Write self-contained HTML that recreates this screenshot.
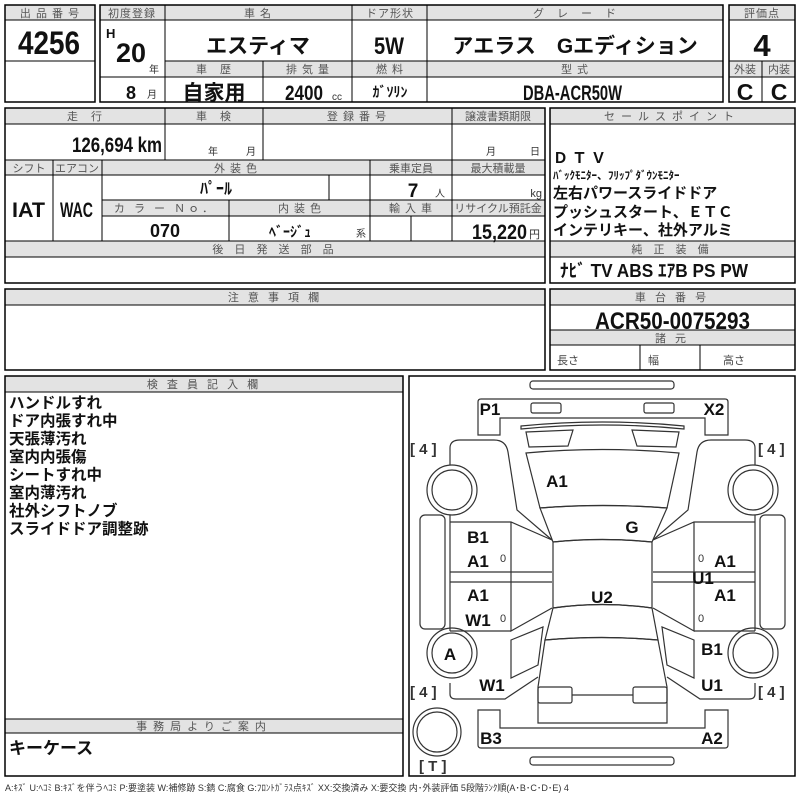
<!DOCTYPE html>
<html><head><meta charset="utf-8"><style>
body{margin:0;background:#fff}
svg{display:block}
text{font-family:"Liberation Sans","Noto Sans CJK JP",sans-serif}
.h{font-size:11px;fill:#555;text-anchor:middle;letter-spacing:1px}
.n{font-family:"Liberation Sans Narrow","Liberation Sans","Noto Sans CJK JP",sans-serif;font-weight:bold;fill:#111}
.c{text-anchor:middle}
.g{fill:#e3e3e3;stroke:#000;stroke-width:1}
.b{fill:none;stroke:#000;stroke-width:1.5}
.l{stroke:#000;stroke-width:1}
.k{font-weight:bold;fill:#111}
.car{fill:none;stroke:#333;stroke-width:1.2}
.lab{font-weight:bold;font-size:17px;fill:#111;text-anchor:middle}
</style></head><body>
<svg width="800" height="800" viewBox="0 0 800 800" xmlns="http://www.w3.org/2000/svg">
<!-- Box1 -->
<rect class="g" x="5" y="5" width="90" height="15"/>
<rect class="b" x="5" y="5" width="90" height="97"/>
<line class="l" x1="5" y1="61" x2="95" y2="61"/>
<text class="h" x="50" y="17">出 品 番 号</text>
<text class="n" x="18" y="54" font-size="32" textLength="62" lengthAdjust="spacingAndGlyphs">4256</text>
<!-- Box2 -->
<rect class="g" x="100" y="5" width="623" height="15"/>
<rect class="g" x="165" y="61" width="558" height="16"/>
<rect class="b" x="100" y="5" width="623" height="97"/>
<line class="l" x1="165" y1="5" x2="165" y2="102"/>
<line class="l" x1="352" y1="5" x2="352" y2="102"/>
<line class="l" x1="427" y1="5" x2="427" y2="102"/>
<line class="l" x1="263" y1="61" x2="263" y2="102"/>
<line class="l" x1="100" y1="77" x2="165" y2="77"/>
<text class="h" x="132" y="17">初度登録</text>
<text class="h" x="258" y="17">車 名</text>
<text class="h" x="390" y="17">ドア形状</text>
<text class="h" x="575" y="17">グ　レ　ー　ド</text>
<text class="n" x="106" y="38" font-size="13">H</text>
<text class="n" x="116" y="62" font-size="27" textLength="30" lengthAdjust="spacingAndGlyphs">20</text>
<text x="149" y="73" font-size="10" fill="#333">年</text>
<text class="n" x="126" y="99" font-size="18">8</text>
<text x="147" y="98" font-size="10" fill="#333">月</text>
<text class="k c" x="258" y="53" font-size="21">エスティマ</text>
<text class="n" x="374" y="54" font-size="24" textLength="30" lengthAdjust="spacingAndGlyphs">5W</text>
<text class="k c" x="575" y="53" font-size="21">アエラス　Gエディション</text>
<text class="h" x="214" y="73">車　歴</text>
<text class="h" x="308" y="73">排 気 量</text>
<text class="h" x="390" y="73">燃 料</text>
<text class="h" x="575" y="73">型 式</text>
<text class="k c" x="214" y="100" font-size="21">自家用</text>
<text class="n" x="285" y="100" font-size="21" textLength="38" lengthAdjust="spacingAndGlyphs">2400</text>
<text x="332" y="100" font-size="10" fill="#333">cc</text>
<text class="k c" x="390" y="97" font-size="14">ｶﾞｿﾘﾝ</text>
<text class="n" x="523" y="100" font-size="21" textLength="99" lengthAdjust="spacingAndGlyphs">DBA-ACR50W</text>
<!-- Box3 -->
<rect class="g" x="729" y="5" width="66" height="15"/>
<rect class="g" x="729" y="61" width="66" height="16"/>
<rect class="b" x="729" y="5" width="66" height="97"/>
<line class="l" x1="762" y1="61" x2="762" y2="102"/>
<text class="h" x="762" y="17">評価点</text>
<text class="n c" x="762" y="56" font-size="31">4</text>
<text class="h" x="745" y="73" style="letter-spacing:0">外装</text>
<text class="h" x="779" y="73" style="letter-spacing:0">内装</text>
<text class="n c" x="745" y="100" font-size="23">C</text>
<text class="n c" x="779" y="100" font-size="23">C</text>
<!-- Section 2 left -->
<rect class="g" x="5" y="108" width="540" height="16"/>
<rect class="g" x="5" y="160" width="540" height="15"/>
<rect class="g" x="102" y="200" width="443" height="16"/>
<rect class="g" x="5" y="241" width="540" height="16"/>
<rect class="b" x="5" y="108" width="540" height="175"/>
<line class="l" x1="165" y1="108" x2="165" y2="160"/>
<line class="l" x1="263" y1="108" x2="263" y2="160"/>
<line class="l" x1="452" y1="108" x2="452" y2="241"/>
<line class="l" x1="53" y1="160" x2="53" y2="241"/>
<line class="l" x1="102" y1="160" x2="102" y2="241"/>
<line class="l" x1="370" y1="160" x2="370" y2="241"/>
<line class="l" x1="329" y1="175" x2="329" y2="200"/>
<line class="l" x1="229" y1="200" x2="229" y2="241"/>
<line class="l" x1="411" y1="216" x2="411" y2="241"/>
<text class="h" x="85" y="120">走　行</text>
<text class="h" x="214" y="120">車　検</text>
<text class="h" x="357" y="120">登 録 番 号</text>
<text class="h" x="498" y="120" style="letter-spacing:0">譲渡書類期限</text>
<text class="n" x="72" y="152" font-size="21" textLength="90" lengthAdjust="spacingAndGlyphs">126,694 km</text>
<text x="208" y="155" font-size="10" fill="#333">年</text>
<text x="246" y="155" font-size="10" fill="#333">月</text>
<text x="486" y="155" font-size="10" fill="#333">月</text>
<text x="530" y="155" font-size="10" fill="#333">日</text>
<text class="h" x="29" y="172" style="letter-spacing:0">シフト</text>
<text class="h" x="77" y="172" style="letter-spacing:0">エアコン</text>
<text class="h" x="236" y="172">外 装 色</text>
<text class="h" x="411" y="172" style="letter-spacing:0">乗車定員</text>
<text class="h" x="498" y="172" style="letter-spacing:0">最大積載量</text>
<text class="k c" x="216" y="194" font-size="16">ﾊﾟｰﾙ</text>
<text class="n" x="413" y="197" font-size="19" text-anchor="middle">7</text>
<text x="435" y="197" font-size="10" fill="#333">人</text>
<text x="542" y="197" font-size="11" fill="#333" text-anchor="end">kg</text>
<text class="h" x="165" y="212" style="letter-spacing:3px">カ ラ ー Ｎｏ．</text>
<text class="h" x="300" y="212">内 装 色</text>
<text class="h" x="411" y="212">輸 入 車</text>
<text class="h" x="498" y="212" style="letter-spacing:0">リサイクル預託金</text>
<text class="n" x="12" y="217" font-size="21" textLength="33" lengthAdjust="spacingAndGlyphs">IAT</text>
<text class="n" x="60" y="217" font-size="21" textLength="33" lengthAdjust="spacingAndGlyphs">WAC</text>
<text class="n c" x="165" y="237" font-size="18">070</text>
<text class="k c" x="290" y="237" font-size="14">ﾍﾞｰｼﾞｭ</text>
<text x="356" y="237" font-size="10" fill="#333">系</text>
<text class="n" x="472" y="239" font-size="21" textLength="55" lengthAdjust="spacingAndGlyphs">15,220</text>
<text x="529" y="238" font-size="11" fill="#333">円</text>
<text class="h" x="275" y="253" style="letter-spacing:4px">後 日 発 送 部 品</text>
<!-- Section 2 right -->
<rect class="g" x="550" y="108" width="245" height="16"/>
<rect class="g" x="550" y="241" width="245" height="16"/>
<rect class="b" x="550" y="108" width="245" height="175"/>
<text class="h" x="672" y="120" style="letter-spacing:6px">セールスポイント</text>
<text class="k" x="553" y="163" font-size="15" style="letter-spacing:4px">ＤＴＶ</text>
<text class="k" x="553" y="179" font-size="11">ﾊﾞｯｸﾓﾆﾀｰ、ﾌﾘｯﾌﾟﾀﾞｳﾝﾓﾆﾀｰ</text>
<text class="k" x="553" y="198" font-size="15">左右パワースライドドア</text>
<text class="k" x="553" y="217" font-size="15">プッシュスタート、ＥＴＣ</text>
<text class="k" x="553" y="235" font-size="15">インテリキー、社外アルミ</text>
<text class="h" x="672" y="253" style="letter-spacing:4px">純 正 装 備</text>
<text class="n" x="560" y="277" font-size="18" textLength="188" lengthAdjust="spacingAndGlyphs">ﾅﾋﾞ  TV  ABS  ｴｱB  PS  PW</text>
<!-- Section 3 -->
<rect class="g" x="5" y="289" width="540" height="16"/>
<rect class="b" x="5" y="289" width="540" height="81"/>
<text class="h" x="275" y="301" style="letter-spacing:3px">注 意 事 項 欄</text>
<rect class="g" x="550" y="289" width="245" height="16"/>
<rect class="g" x="550" y="330" width="245" height="15"/>
<rect class="b" x="550" y="289" width="245" height="81"/>
<line class="l" x1="640" y1="345" x2="640" y2="370"/>
<line class="l" x1="700" y1="345" x2="700" y2="370"/>
<text class="h" x="672" y="301" style="letter-spacing:3px">車 台 番 号</text>
<text class="n" x="595" y="329" font-size="24" textLength="155" lengthAdjust="spacingAndGlyphs">ACR50-0075293</text>
<text class="h" x="672" y="342" style="letter-spacing:3px">諸 元</text>
<text x="557" y="364" font-size="11" fill="#444">長さ</text>
<text x="648" y="364" font-size="11" fill="#444">幅</text>
<text x="723" y="364" font-size="11" fill="#444">高さ</text>
<!-- Section 4 left -->
<rect class="g" x="5" y="376" width="398" height="16"/>
<rect class="g" x="5" y="719" width="398" height="14"/>
<rect class="b" x="5" y="376" width="398" height="400"/>
<text class="h" x="204" y="388" style="letter-spacing:3px">検 査 員 記 入 欄</text>
<g class="k" font-size="15.5">
<text x="9" y="408">ハンドルすれ</text>
<text x="9" y="426">ドア内張すれ中</text>
<text x="9" y="444">天張薄汚れ</text>
<text x="9" y="462">室内内張傷</text>
<text x="9" y="480">シートすれ中</text>
<text x="9" y="498">室内薄汚れ</text>
<text x="9" y="516">社外シフトノブ</text>
<text x="9" y="534">スライドドア調整跡</text>
</g>
<text class="h" x="204" y="730" style="letter-spacing:6px">事務局よりご案内</text>
<text class="k" x="9" y="754" font-size="17">キーケース</text>
<!-- Car box -->
<rect class="b" x="409" y="376" width="386" height="400"/>
<g class="car">
<rect x="530" y="381" width="144" height="8" rx="3"/>
<path d="M478,435 L478,402 Q478,399 481,399 L725,399 Q728,399 728,402 L728,435 L705,435 L705,418 L500,418 L500,435 Z"/>
<rect x="531" y="403" width="30" height="10" rx="2"/>
<rect x="644" y="403" width="30" height="10" rx="2"/>
<path d="M521,426 Q602,418 684,426 L684,429 Q602,421 521,429 Z"/>
<path d="M526,432 L573,430 L568,446 L529,447 Z"/>
<path d="M632,430 L679,432 L676,447 L637,446 Z"/>
<path d="M526,453 Q602,446 679,453 L667,508 Q602,503 540,508 Z"/>
<path d="M540,508 Q602,503 667,508 L652,542 Q602,537 553,542 Z"/>
<path d="M553,542 Q602,537 652,542 L652,608 Q602,601 553,608 Z"/>
<path d="M553,608 Q602,601 652,608 L658,640 Q602,635 545,640 Z"/>
<path d="M545,640 Q602,635 658,640 L667,687 L667,723 L538,723 L538,687 Z"/>
<rect x="538" y="687" width="34" height="16" rx="2"/>
<rect x="633" y="687" width="34" height="16" rx="2"/>
<line x1="572" y1="695" x2="633" y2="695"/>
<path d="M478,710 L500,710 L500,728 L705,728 L705,710 L728,710 L728,745 Q728,748 725,748 L481,748 Q478,748 478,745 Z"/>
<rect x="530" y="757" width="144" height="8" rx="3"/>
<!-- left side -->
<path d="M450,465 L450,448 Q450,440 460,440 L494,440 Q506,440 508,452 L517,510 L552,540"/>
<path d="M450,515 L450,522 L511,522 L552,540 M511,522 L511,631 L552,608 M450,631 L511,631 M450,522 L450,631 M450,572 L552,572 M450,582 L552,582"/>
<rect x="420" y="515" width="25" height="114" rx="5"/>
<path d="M511,640 L543,627 L538,665 L511,678 Z"/>
<path d="M450,683 L450,694 Q450,699 456,699 L505,699 L538,677"/>
<!-- right side -->
<path d="M755,465 L755,448 Q755,440 745,440 L711,440 Q699,440 697,452 L688,510 L653,540"/>
<path d="M755,515 L755,522 L694,522 L653,540 M694,522 L694,631 L653,608 M755,631 L694,631 M755,522 L755,631 M755,572 L653,572 M755,582 L653,582"/>
<rect x="760" y="515" width="25" height="114" rx="5"/>
<path d="M694,640 L662,627 L667,665 L694,678 Z"/>
<path d="M755,683 L755,694 Q755,699 749,699 L700,699 L667,677"/>
<!-- wheels -->
<ellipse cx="452" cy="490" rx="25" ry="25"/><ellipse cx="452" cy="490" rx="20" ry="20"/>
<ellipse cx="452" cy="653" rx="25" ry="25"/><ellipse cx="452" cy="653" rx="20" ry="20"/>
<ellipse cx="753" cy="490" rx="25" ry="25"/><ellipse cx="753" cy="490" rx="20" ry="20"/>
<ellipse cx="753" cy="653" rx="25" ry="25"/><ellipse cx="753" cy="653" rx="20" ry="20"/>
<ellipse cx="437" cy="732" rx="24" ry="24"/><ellipse cx="437" cy="732" rx="20" ry="20"/>
</g>
<g font-size="15" fill="#333" font-weight="bold">
<text x="410" y="454">[ 4 ]</text>
<text x="758" y="454">[ 4 ]</text>
<text x="410" y="697">[ 4 ]</text>
<text x="758" y="697">[ 4 ]</text>
<text x="419" y="771">[ T ]</text>
</g>
<g class="lab">
<text x="490" y="415">P1</text>
<text x="714" y="415">X2</text>
<text x="557" y="487">A1</text>
<text x="632" y="533">G</text>
<text x="478" y="543">B1</text>
<text x="478" y="567">A1</text>
<text x="478" y="601">A1</text>
<text x="478" y="626">W1</text>
<text x="450" y="660">A</text>
<text x="492" y="691">W1</text>
<text x="491" y="744">B3</text>
<text x="712" y="744">A2</text>
<text x="602" y="603">U2</text>
<text x="725" y="567">A1</text>
<text x="703" y="584">U1</text>
<text x="725" y="601">A1</text>
<text x="712" y="655">B1</text>
<text x="712" y="691">U1</text>
</g>
<g font-size="11" fill="#333" text-anchor="middle">
<text x="503" y="562">0</text><text x="503" y="622">0</text>
<text x="701" y="562">0</text><text x="701" y="622">0</text>
</g>
<text x="5" y="791" font-size="9" fill="#333">A:ｷｽﾞ U:ﾍｺﾐ B:ｷｽﾞを伴うﾍｺﾐ P:要塗装 W:補修跡 S:錆 C:腐食 G:ﾌﾛﾝﾄｶﾞﾗｽ点ｷｽﾞ XX:交換済み X:要交換  内･外装評価  5段階ﾗﾝｸ順(A･B･C･D･E) 4</text>
</svg>
</body></html>
